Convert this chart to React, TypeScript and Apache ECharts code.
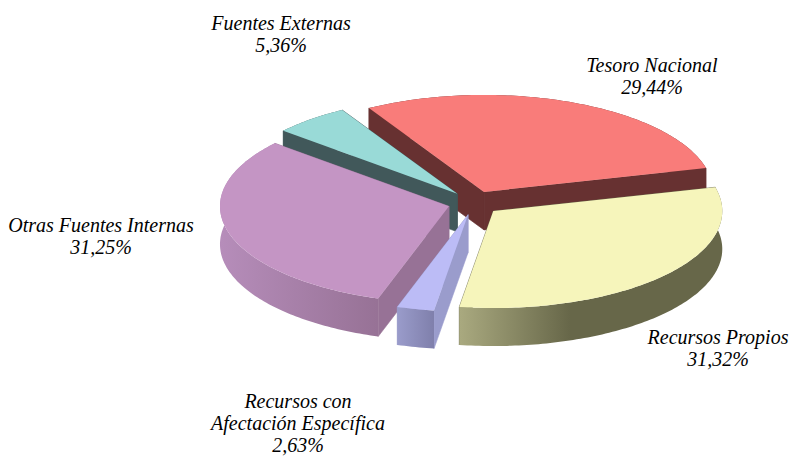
import React, { useEffect, useRef } from "react";
import * as echarts from "echarts";

// Data, clockwise from the first slice
const names = ["Tesoro Nacional", "Recursos Propios", "Recursos con\nAfectación Específica", "Otras Fuentes Internas", "Fuentes Externas"];
const shares = [29.44, 31.32, 2.63, 31.25, 5.36];

// Styles per slice
const topColors = ["#f97c7a", "#f6f5bb", "#bcbcf6", "#c495c4", "#99dad7"];
const wallColors = ["#673131", "#676749", "#9a9ccc", "#977296", "#41585a"];
const rimFrom = ["#673131", "#a9a97f", "#9a9ccb", "#b68dba", "#41585a"];
const rimTo = ["#673131", "#676749", "#8080ac", "#977296", "#41585a"];
const rimSpan = [[371, 705], [460, 570], [397, 433], [220, 377], [284, 342]];
const labelPos = [[652, 65], [718, 337], [298, 401], [101, 225], [281, 23]];
// Painted back to front
const drawOrder = [0, 4, 3, 2, 1];

const CX = 474, CY = 203, RX = 229, RY = 97, DEPTH = 38, START = -30.2, EX = 26, EY = 12;

const total = shares.reduce((a, b) => a + b, 0);
const rad = (d: number) => (d * Math.PI) / 180;

function sliceRange(i: number) {
  let a = START;
  for (let k = 0; k < i; k++) a += (shares[k] / total) * 360;
  return [a, a + (shares[i] / total) * 360];
}

function renderItem(params: any) {
  const i = drawOrder[params.dataIndex];
  const [a0, a1] = sliceRange(i);
  const mid = (a0 + a1) / 2;
  const ax = CX + EX * Math.sin(rad(mid));
  const ay = CY - EY * Math.cos(rad(mid));
  const pt = (t: number): number[] => [ax + RX * Math.sin(rad(t)), ay - RY * Math.cos(rad(t))];
  const arc: number[][] = [];
  const steps = Math.max(6, Math.ceil(a1 - a0));
  for (let s = 0; s <= steps; s++) arc.push(pt(a0 + ((a1 - a0) * s) / steps));
  const down = (p: number[]) => [p[0], p[1] + DEPTH];
  const apex = [ax, ay];
  const first = arc[0], last = arc[arc.length - 1];
  const poly = (points: number[][], fill: any, stroke: string = "none") => ({
    type: "polygon",
    shape: { points },
    style: { fill, stroke, lineWidth: 0.6 },
  });
  const [gx0, gx1] = rimSpan[i];
  const rimFill = new echarts.graphic.LinearGradient(
    gx0, 0, gx1, 0,
    [{ offset: 0, color: rimFrom[i] }, { offset: 1, color: rimTo[i] }],
    true
  );
  return {
    type: "group",
    children: [
      // A hairline in the wall's own colour hides the seam where the two walls meet
      poly([apex, last, down(last), down(apex)], wallColors[i], wallColors[i]),
      poly([apex, first, down(first), down(apex)], wallColors[i], wallColors[i]),
      poly([...arc, ...arc.slice().reverse().map(down)], rimFill),
      poly([apex, ...arc], topColors[i]),
    ],
  };
}

function renderLabel(params: any) {
  const i = params.dataIndex;
  return {
    type: "text",
    style: {
      text: `${names[i]}\n${shares[i].toFixed(2).replace(".", ",")}%`,
      x: labelPos[i][0],
      y: labelPos[i][1] - 11,
      align: "center",
      verticalAlign: "top",
      font: 'italic 20px "Liberation Serif"',
      lineHeight: 22,
      fill: "#000",
    },
  };
}

export default function App() {
  const ref = useRef<HTMLDivElement>(null);
  useEffect(() => {
    document.body.style.margin = "0";
    const chart = echarts.init(ref.current!, undefined, { renderer: "svg" });
    chart.setOption({
      animation: false,
      backgroundColor: "#fff",
      series: [
        {
          type: "custom",
          coordinateSystem: "none",
          silent: true,
          renderItem,
          data: drawOrder.map((i) => shares[i]),
        },
        {
          type: "custom",
          coordinateSystem: "none",
          silent: true,
          renderItem: renderLabel,
          data: shares,
          z: 5,
        },
      ],
    });
    return () => chart.dispose();
  }, []);
  return <div ref={ref} style={{ width: 790, height: 457 }} />;
}
